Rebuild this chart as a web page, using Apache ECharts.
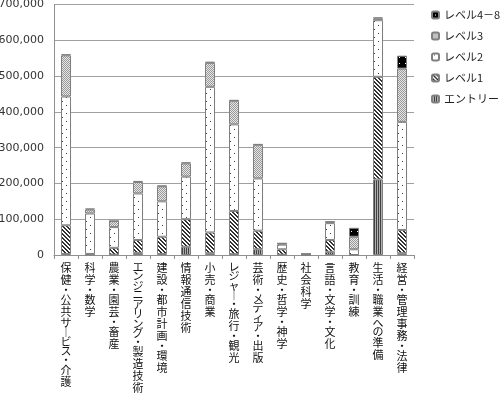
<!DOCTYPE html>
<html>
<head>
<meta charset="utf-8">
<script src="https://cdn.jsdelivr.net/npm/echarts@6/dist/echarts.min.js"></script>
<style>
  html, body { margin: 0; padding: 0; background: #fff; }
  #chart { width: 500px; height: 397px; }
</style>
</head>
<body>
<div id="chart"></div>
<script>
// 分野名
const categories = [
    '保健・公共サービス・介護', '科学・数学', '農業・園芸・畜産', 'エンジニアリング・製造技術',
    '建設・都市計画・環境', '情報通信技術', '小売・商業', 'レジャー・旅行・観光',
    '芸術・メディア・出版', '歴史・哲学・神学', '社会科学', '言語・文学・文化',
    '教育・訓練', '生活・職業への準備', '経営・管理事務・法律'
];

// レベル別の値
const entry  = [3000, 1000, 1000, 6000, 3000, 23000, 5000, 2000, 16000, 1000, 0, 9000, 0, 211000, 5000];
const level1 = [80000, 2000, 19000, 36000, 48000, 77000, 58000, 121000, 52000, 15000, 1000, 33000, 0, 287000, 65000];
const level2 = [360000, 113000, 58000, 130000, 99000, 119000, 407000, 242000, 146000, 13000, 1000, 47000, 16000, 158000, 302000];
const level3 = [115000, 11000, 17000, 32000, 42000, 37000, 67000, 66000, 94000, 3000, 1000, 3000, 35000, 5000, 149000];
const level4 = [3000, 3000, 0, 3000, 2000, 3000, 3000, 2000, 2000, 1000, 0, 2000, 25000, 3000, 36000];

const seriesNames = ['エントリー', 'レベル1', 'レベル2', 'レベル3', 'レベル4－8'];

// 小さなキャンバスで塗りパターンを作る
function pattern(w, h, bg, fg, pts) {
    const c = document.createElement('canvas');
    c.width = w;
    c.height = h;
    const g = c.getContext('2d');
    g.fillStyle = bg;
    g.fillRect(0, 0, w, h);
    g.fillStyle = fg;
    pts.forEach(function (p) { g.fillRect(p[0], p[1], 1, 1); });
    return { image: c, repeat: 'repeat' };
}

const fills = [
    pattern(2, 1, '#b0b0b0', '#404040', [[0, 0]]),
    pattern(4, 4, '#ffffff', '#303030', [[0, 0], [1, 0], [1, 1], [2, 1], [2, 2], [3, 2], [3, 3], [0, 3]]),
    pattern(8, 8, '#ffffff', '#404040', [[2, 1], [6, 5]]),
    pattern(2, 2, '#e6e6e6', '#9a9a9a', [[0, 0], [1, 1]]),
    pattern(6, 6, '#000000', '#ffffff', [[3, 3]])
];

const dataList = [entry, level1, level2, level3, level4];

// 縦書きラベル：漢字・かな・中黒で行の高さを変える（長音は縦棒に）
function vertical(s) {
    return s.split('').map(function (ch) {
        if (ch === '・') return '{d|・}';
        if (ch === 'ー') return '{a|｜}';
        if (/[\u4e00-\u9fff]/.test(ch)) return '{k|' + ch + '}';
        return '{a|' + ch + '}';
    }).join('\n');
}

var myChart = echarts.init(document.getElementById('chart'));

var option = {
    animation: false,
    grid: {
        left: 54,
        right: 86,
        top: 4.5,
        bottom: 142,
        containLabel: false,
        outerBoundsMode: 'none'
    },
    legend: {
        orient: 'vertical',
        left: 426,
        top: 4,
        itemWidth: 7,
        itemHeight: 7,
        itemGap: 9,
        data: ['レベル4－8', 'レベル3', 'レベル2', 'レベル1', 'エントリー'],
        textStyle: {
            fontFamily: 'Noto Sans CJK JP',
            fontSize: 11,
            lineHeight: 12,
            color: '#222'
        }
    },
    xAxis: {
        type: 'category',
        data: categories,
        axisLine: { lineStyle: { color: '#909090' } },
        axisTick: { show: true, length: 4, lineStyle: { color: '#909090' } },
        axisLabel: {
            interval: 0,
            margin: 7,
            fontFamily: 'Noto Sans CJK JP',
            fontSize: 11,
            color: '#111',
            verticalAlign: 'top',
            formatter: vertical,
            rich: {
                k: { fontFamily: 'Noto Sans CJK JP', fontSize: 11, color: '#111', lineHeight: 12 },
                a: { fontFamily: 'Noto Sans CJK JP', fontSize: 11, color: '#111', lineHeight: 9.5 },
                d: { fontFamily: 'Noto Sans CJK JP', fontSize: 11, color: '#111', lineHeight: 8 }
            }
        }
    },
    yAxis: {
        type: 'value',
        min: 0,
        max: 700000,
        interval: 100000,
        axisLine: { show: true, lineStyle: { color: '#909090' } },
        axisTick: { show: false },
        splitLine: { lineStyle: { color: '#a0a0a0' } },
        axisLabel: {
            margin: 10,
            fontFamily: 'DejaVu Sans',
            fontSize: 11,
            color: '#333',
            formatter: function (v) { return v.toLocaleString('en-US'); }
        }
    },
    series: seriesNames.map(function (name, i) {
        return {
            name: name,
            type: 'bar',
            stack: 'total',
            barWidth: 10,
            data: dataList[i],
            itemStyle: {
                color: fills[i],
                borderColor: '#808080',
                borderWidth: 1
            }
        };
    })
};

myChart.setOption(option);
</script>
</body>
</html>
